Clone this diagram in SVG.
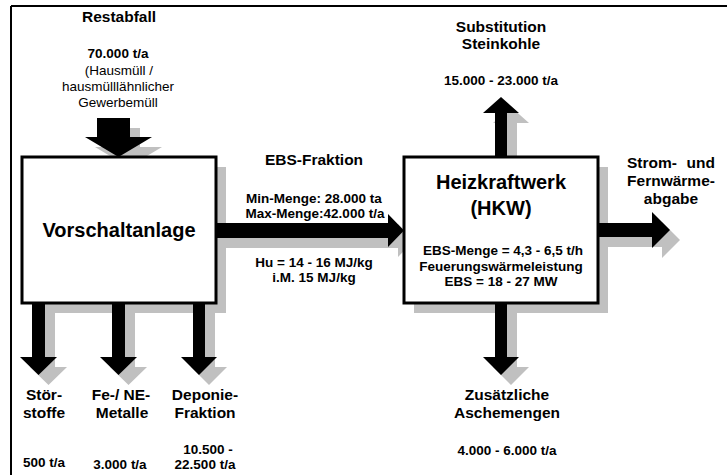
<svg xmlns="http://www.w3.org/2000/svg" xmlns:xlink="http://www.w3.org/1999/xlink" width="728" height="475" viewBox="0 0 728 475">
<style>
  text { font-family: "Liberation Sans", Arial, sans-serif; fill: #000; }
  .b { font-weight: bold; }
  .t155 { font-size: 15.5px; }
  .t135 { font-size: 13.5px; }
  .t20 { font-size: 20px; }
  .mid { text-anchor: middle; }
  .box { fill: #fff; stroke: #000; stroke-width: 3; }
  .shadow { fill: #c0c0c0; }
  .arrow { fill: #000; }
</style>
<defs>
  <polygon id="a-in" points="97,118 130,118 130,137 152,137 118.5,157 85,137 97,137"/>
  <polygon id="a-ebs" points="216,223 388,223 388,214 404,230.5 388,247 388,238 216,238"/>
  <polygon id="a-strom" points="598,223 652,223 652,212 670,230 652,248 652,237 598,237"/>
  <polygon id="a-up" points="495,157 495,113 483,113 501,97 519,113 507,113 507,157"/>
  <polygon id="a-asche" points="495,303 507,303 507,357 519,357 501,375 483,357 495,357"/>
  <polygon id="a-stoer" points="32,303 45,303 45,357 57,357 38.5,375 20,357 32,357"/>
  <polygon id="a-fe" points="112,303 125,303 125,357 137,357 118.5,375 100,357 112,357"/>
  <polygon id="a-dep" points="193,303 205,303 205,357 217,357 199,375 181,357 193,357"/>
</defs>

<g id="frame" fill="none" stroke="#000" stroke-width="2">
  <line x1="11" y1="6" x2="727" y2="6"/>
  <line x1="11" y1="6" x2="11" y2="475"/>
</g>

<g id="shadows" class="shadow" transform="translate(10,10)">
  <use xlink:href="#a-in"/>
  <use xlink:href="#a-ebs"/>
  <use xlink:href="#a-strom"/>
  <use xlink:href="#a-up"/>
  <use xlink:href="#a-asche"/>
  <use xlink:href="#a-stoer"/>
  <use xlink:href="#a-fe"/>
  <use xlink:href="#a-dep"/>
  <rect x="22" y="157" width="194" height="146"/>
  <rect x="404" y="157" width="194" height="146"/>
</g>

<g id="vorschaltanlage">
  <rect class="box" x="22" y="157" width="194" height="146"/>
  <text class="b t20 mid" x="119" y="237">Vorschaltanlage</text>
</g>

<g id="hkw">
  <rect class="box" x="404" y="157" width="194" height="146"/>
  <text class="b t20 mid" x="501" y="189">Heizkraftwerk</text>
  <text class="b t20 mid" x="501" y="215">(HKW)</text>
  <text class="b t135 mid" x="503" y="255">EBS-Menge = 4,3 - 6,5 t/h</text>
  <text class="b t135 mid" x="501" y="270.5">Feuerungswärmeleistung</text>
  <text class="b t135 mid" x="501" y="286">EBS = 18 - 27 MW</text>
</g>

<g id="connectors" class="arrow">
  <use xlink:href="#a-in"/>
  <use xlink:href="#a-ebs"/>
  <use xlink:href="#a-strom"/>
  <use xlink:href="#a-up"/>
  <use xlink:href="#a-asche"/>
  <use xlink:href="#a-stoer"/>
  <use xlink:href="#a-fe"/>
  <use xlink:href="#a-dep"/>
</g>

<g id="restabfall">
  <text class="b t155 mid" x="119" y="22">Restabfall</text>
  <text class="b t135 mid" x="118" y="58">70.000 t/a</text>
  <text class="t135 mid" x="119" y="75">(Hausmüll /</text>
  <text class="t135 mid" x="118" y="91">hausmülllähnlicher</text>
  <text class="t135 mid" x="118" y="107">Gewerbemüll</text>
</g>

<g id="ebs-fraktion">
  <text class="b t155 mid" x="314" y="165">EBS-Fraktion</text>
  <text class="b t135 mid" x="314" y="203">Min-Menge: 28.000 ta</text>
  <text class="b t135 mid" x="315" y="217.5">Max-Menge:42.000 t/a</text>
  <text class="b t135 mid" x="314" y="267">Hu = 14 - 16 MJ/kg</text>
  <text class="b t135 mid" x="314" y="282">i.M. 15 MJ/kg</text>
</g>

<g id="substitution">
  <text class="b t155 mid" x="501" y="32">Substitution</text>
  <text class="b t155 mid" x="501" y="49">Steinkohle</text>
  <text class="b t135 mid" x="501" y="85">15.000 - 23.000 t/a</text>
</g>

<g id="strom">
  <text class="b t155" x="627" y="168">Strom-</text>
  <text class="b t155" x="715" y="168" text-anchor="end">und</text>
  <text class="b t155 mid" x="671" y="186">Fernwärme-</text>
  <text class="b t155 mid" x="671" y="204">abgabe</text>
</g>

<g id="asche">
  <text class="b t155 mid" x="507" y="400">Zusätzliche</text>
  <text class="b t155 mid" x="507" y="418">Aschemengen</text>
  <text class="b t135 mid" x="507" y="455">4.000 - 6.000 t/a</text>
</g>

<g id="stoerstoffe">
  <text class="b t155 mid" x="44" y="400">Stör-</text>
  <text class="b t155 mid" x="44" y="418">stoffe</text>
  <text class="b t135 mid" x="44" y="467">500 t/a</text>
</g>

<g id="metalle">
  <text class="b t155 mid" x="121" y="400">Fe-/ NE-</text>
  <text class="b t155 mid" x="122" y="418">Metalle</text>
  <text class="b t135 mid" x="120" y="469">3.000 t/a</text>
</g>

<g id="deponie">
  <text class="b t155 mid" x="205" y="400">Deponie-</text>
  <text class="b t155 mid" x="205" y="418">Fraktion</text>
  <text class="b t135 mid" x="208" y="454">10.500 -</text>
  <text class="b t135 mid" x="205" y="469">22.500 t/a</text>
</g>
</svg>
